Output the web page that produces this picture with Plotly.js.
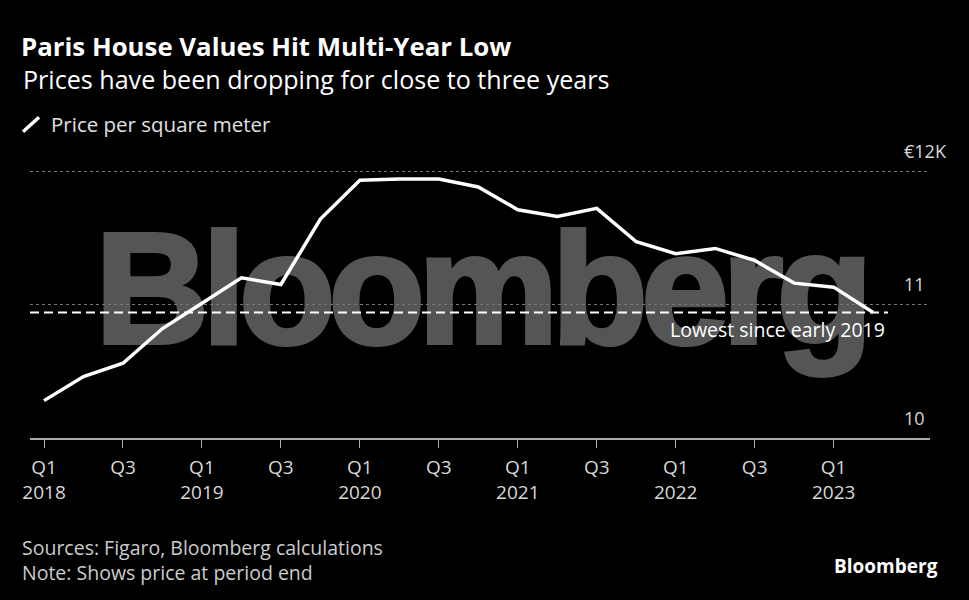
<!DOCTYPE html>
<html>
<head>
<meta charset="utf-8">
<script src="https://cdn.plot.ly/plotly-3.0.1.min.js"></script>
<style>
  html, body { margin:0; padding:0; background:#000; }
  #wrap { position:relative; width:969px; height:600px; background:#000; overflow:hidden; }
  #wm { position:absolute; left:95px; top:209px; font-family:"Liberation Sans", Arial, sans-serif; font-weight:bold;
        font-size:158px; line-height:158px; color:#555; -webkit-text-stroke:4px #555; letter-spacing:-7px;
        white-space:nowrap; z-index:0; }
  #chart { position:absolute; left:0; top:0; width:969px; height:600px; z-index:1; }
</style>
</head>
<body>
<div id="wrap">
  <div id="wm">Bloomberg</div>
  <div id="chart"></div>
</div>
<script>
// Data: Paris price per square meter (thousand euros), quarterly
const quarters = ["Q1 2018","Q2 2018","Q3 2018","Q4 2018",
                  "Q1 2019","Q2 2019","Q3 2019","Q4 2019",
                  "Q1 2020","Q2 2020","Q3 2020","Q4 2020",
                  "Q1 2021","Q2 2021","Q3 2021","Q4 2021",
                  "Q1 2022","Q2 2022","Q3 2022","Q4 2022",
                  "Q1 2023","Q2 2023"];
const pricePerSqm = [10.28, 10.46, 10.56, 10.82,
                     11.01, 11.20, 11.15, 11.64,
                     11.93, 11.94, 11.94, 11.88,
                     11.71, 11.66, 11.72, 11.47,
                     11.38, 11.42, 11.33, 11.16,
                     11.13, 10.94];
const xTickIdx = [0, 2, 4, 6, 8, 10, 12, 14, 16, 18, 20];
const xTickText = ["Q1<br>2018","Q3","Q1<br>2019","Q3","Q1<br>2020","Q3",
                   "Q1<br>2021","Q3","Q1<br>2022","Q3","Q1<br>2023"];
const yTickVals = [10, 11, 12];
const yTickText = ["10", "11", "€12K"];

const idx = quarters.map((q, i) => i);
const lastIdx = idx[idx.length - 1];
const lastVal = pricePerSqm[pricePerSqm.length - 1];

// plot area in pixels
const L = 30, R = 930, B = 437.7, PX_PER_K = 133.5;
const Y0 = 10, Y1 = 12.03;
const T = B - (Y1 - Y0) * PX_PER_K;
const px = x => (x - L) / (R - L);
const py = y => (B - y) / (B - T);

const FONT = "Open Sans, Noto Sans, sans-serif";

const trace = {
  x: idx, y: pricePerSqm, type: "scatter", mode: "lines",
  line: { color: "#ffffff", width: 3.5 },
  hoverinfo: "skip", showlegend: false
};

const layout = {
  width: 969, height: 600,
  paper_bgcolor: "rgba(0,0,0,0)", plot_bgcolor: "rgba(0,0,0,0)",
  margin: { l: L, r: 969 - R, t: T, b: 600 - B, pad: 0 },
  showlegend: false,
  title: {
    text: "<b>Paris House Values Hit Multi-Year Low</b>",
    font: { family: FONT, size: 25.8, color: "#ffffff" },
    xref: "container", yref: "container", x: 21 / 969, xanchor: "left",
    y: 1 - 47 / 600, yanchor: "middle"
  },
  xaxis: {
    range: [-0.355, 22.44], showgrid: false, zeroline: false,
    showline: true, linecolor: "#aaaaaa", linewidth: 1.5,
    tickmode: "array", tickvals: xTickIdx, ticktext: xTickText,
    ticks: "outside", ticklen: 8, tickcolor: "#aaaaaa", tickwidth: 1,
    ticklabelstandoff: 4,
    tickfont: { family: FONT, size: 19, color: "#d8d8d8" },
    fixedrange: true
  },
  yaxis: {
    range: [Y0, Y1], side: "right", anchor: "free", position: px(903),
    ticklabelposition: "outside top", ticklabelshift: -7,
    tickmode: "array", tickvals: yTickVals, ticktext: yTickText,
    ticks: "", showgrid: true, gridcolor: "#777777", gridwidth: 1, griddash: "dot",
    zeroline: false, showline: false,
    tickfont: { family: FONT, size: 18, color: "#d8d8d8" },
    fixedrange: true
  },
  shapes: [
    { type: "line", xref: "paper", yref: "y", x0: 0, x1: px(888), y0: lastVal, y1: lastVal,
      line: { color: "#ffffff", width: 2, dash: "9px,5px" }, layer: "above" },
    { type: "line", xref: "paper", yref: "paper", x0: px(23), y0: py(131.5), x1: px(39), y1: py(117),
      line: { color: "#ffffff", width: 3.5 } }
  ],
  annotations: [
    { xref: "paper", yref: "paper", x: px(21), y: py(79), xanchor: "left", yanchor: "middle",
      text: "Prices have been dropping for close to three years", showarrow: false,
      font: { family: FONT, size: 25.1, color: "#ffffff" } },
    { xref: "paper", yref: "paper", x: px(49), y: py(124), xanchor: "left", yanchor: "middle",
      text: "Price per square meter", showarrow: false,
      font: { family: FONT, size: 20.5, color: "#e0e0e0" } },
    { xref: "x", yref: "y", x: lastIdx + 0.36, y: lastVal, xanchor: "right", yanchor: "top",
      yshift: -1, text: "Lowest since early 2019", showarrow: false,
      font: { family: FONT, size: 19.5, color: "#ffffff" } },
    { xref: "paper", yref: "paper", x: px(20), y: py(560), xanchor: "left", yanchor: "middle", align: "left",
      text: "Sources: Figaro, Bloomberg calculations<br>Note: Shows price at period end", showarrow: false,
      font: { family: FONT, size: 19.5, color: "#cccccc" } },
    { xref: "paper", yref: "paper", x: px(940), y: py(566), xanchor: "right", yanchor: "middle",
      text: "<b>Bloomberg</b>", showarrow: false,
      font: { family: FONT, size: 19, color: "#ffffff" } }
  ]
};

Plotly.newPlot("chart", [trace], layout, { displayModeBar: false, staticPlot: true });
</script>
</body>
</html>
